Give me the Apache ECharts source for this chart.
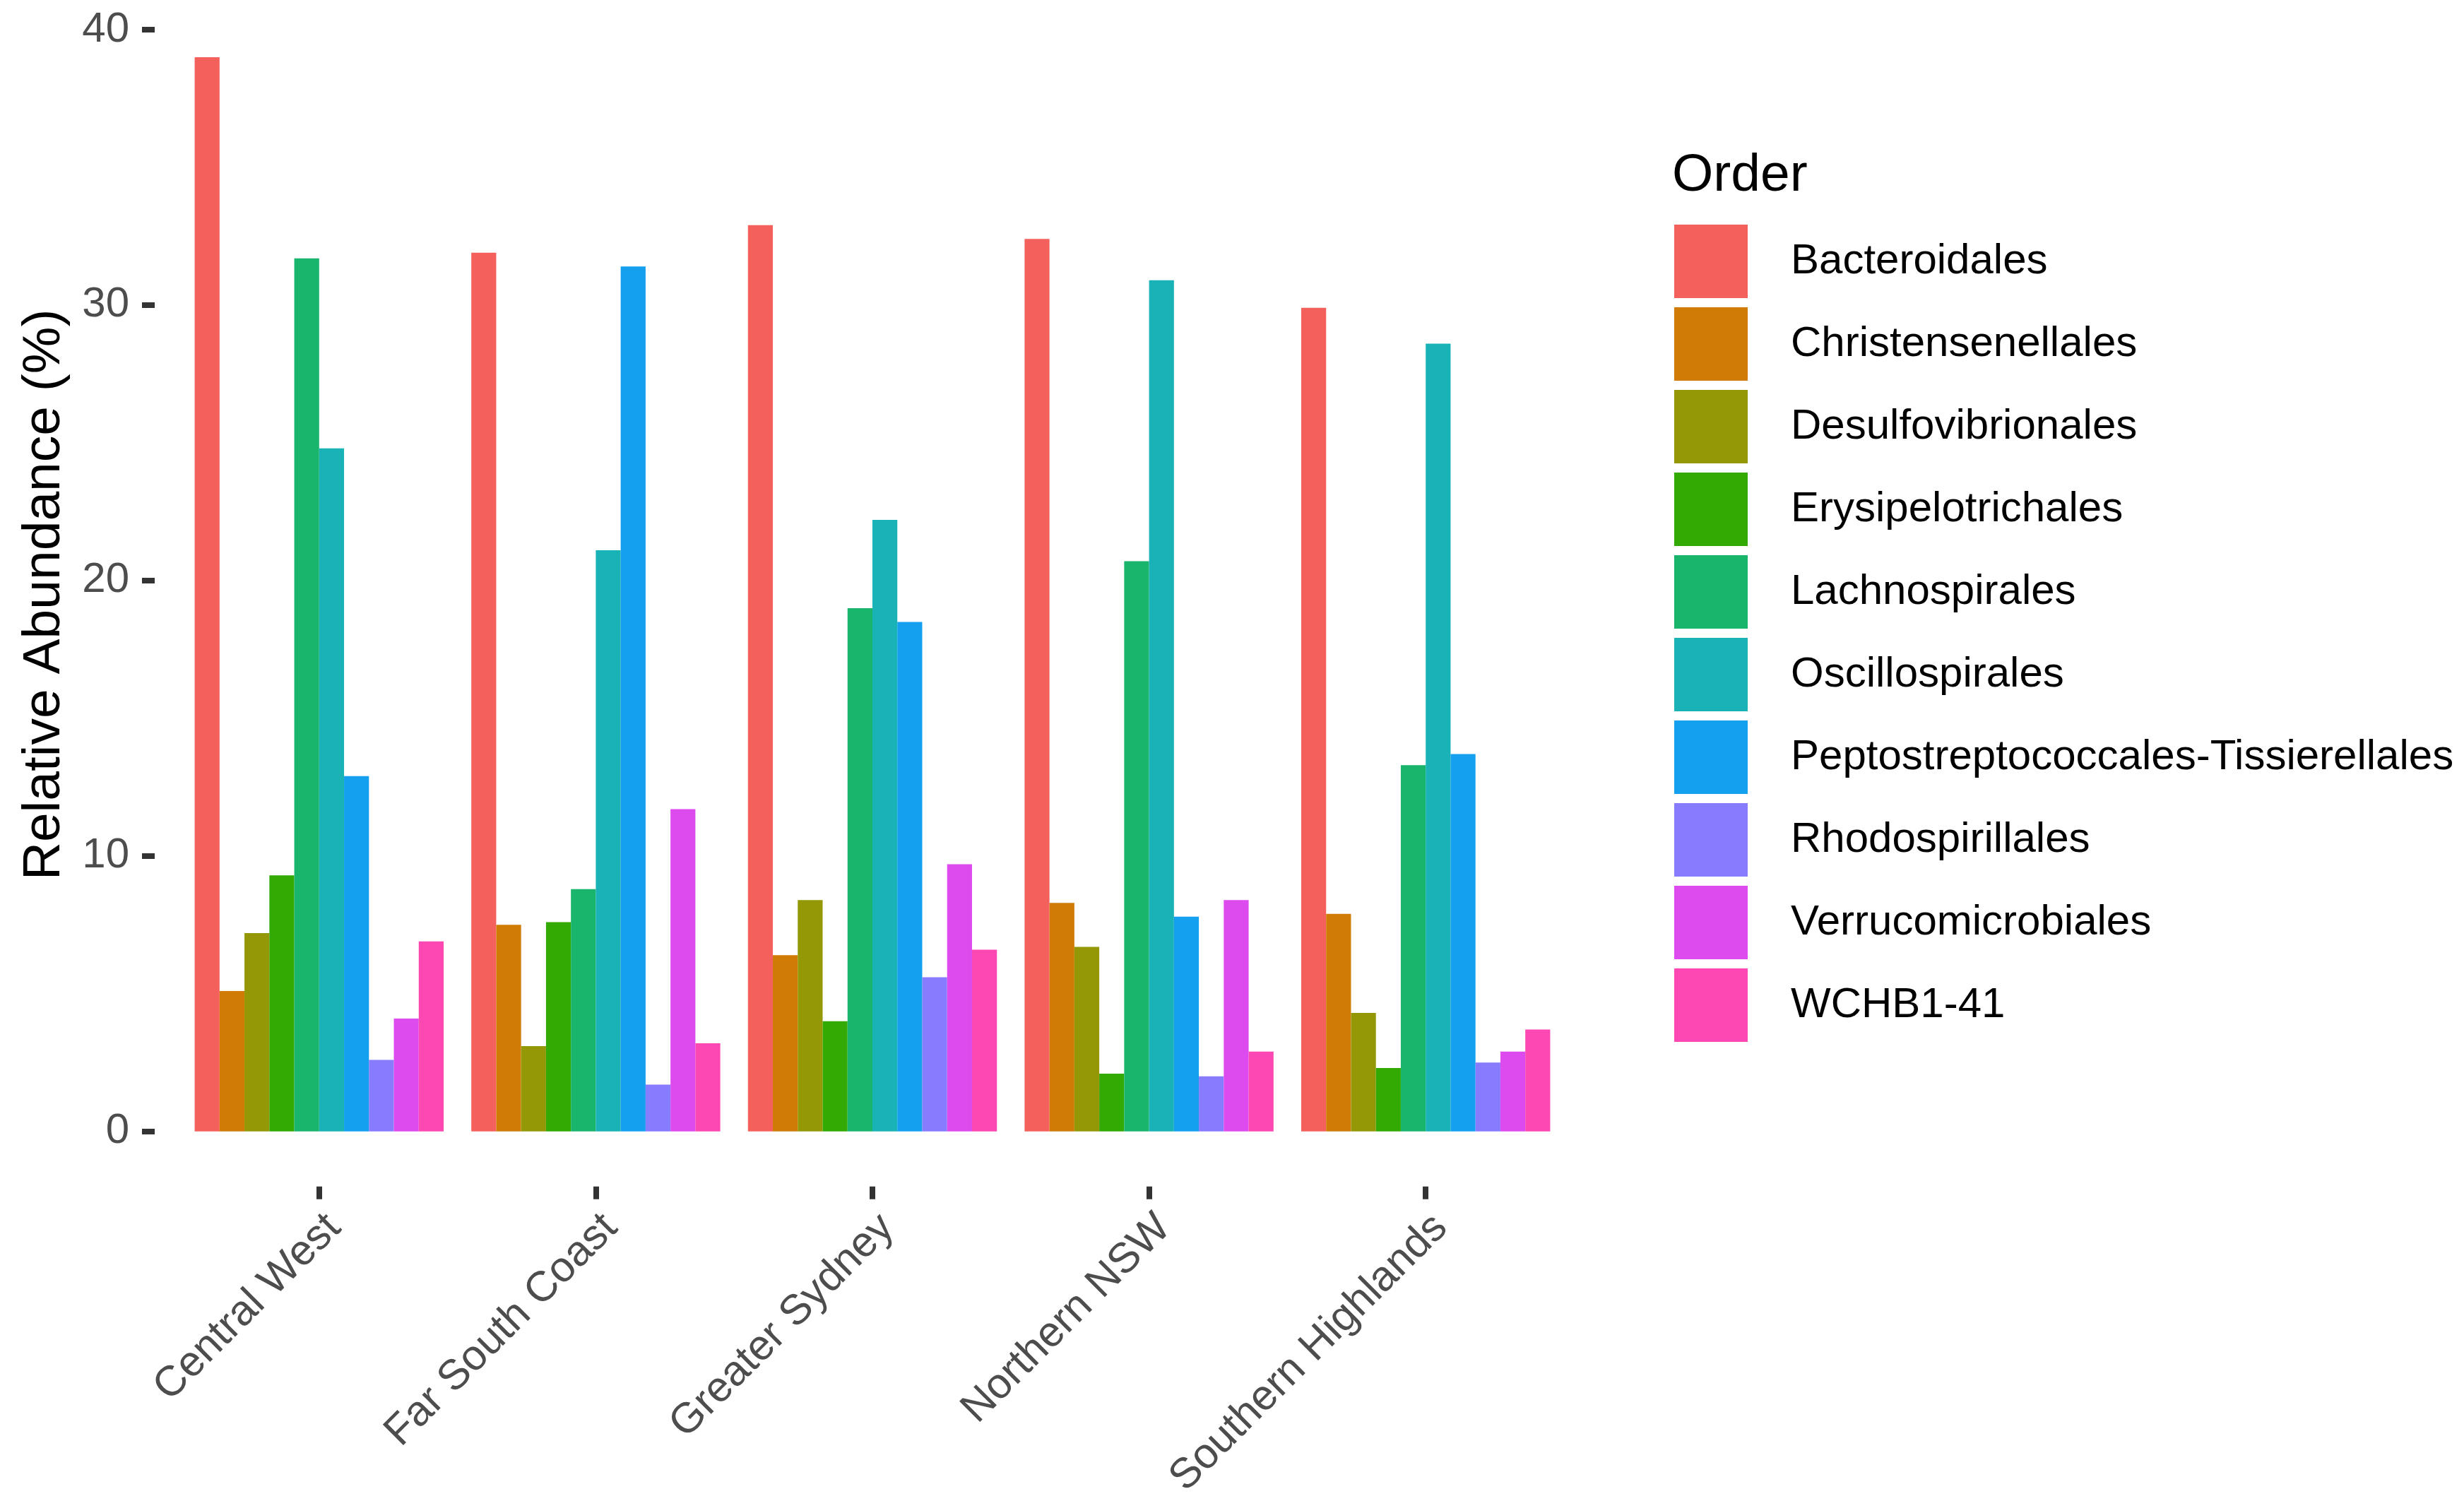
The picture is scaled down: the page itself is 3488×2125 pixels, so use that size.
<!DOCTYPE html>
<html>
<head>
<meta charset="utf-8">
<title>Relative Abundance by Order</title>
<script src="https://cdn.jsdelivr.net/npm/echarts@6/dist/echarts.min.js"></script>
<style>
  html, body { margin: 0; padding: 0; background: #fff; }
  #chart { width: 3488px; height: 2125px; }
</style>
</head>
<body>
<div id="chart"></div>
<script>
const regions = ['Central West', 'Far South Coast', 'Greater Sydney', 'Northern NSW', 'Southern Highlands'];

const orders = [
  'Bacteroidales', 'Christensenellales', 'Desulfovibrionales', 'Erysipelotrichales',
  'Lachnospirales', 'Oscillospirales', 'Peptostreptococcales-Tissierellales',
  'Rhodospirillales', 'Verrucomicrobiales', 'WCHB1-41'
];

// values per order, in region order
const bacteroidales      = [39.0, 31.9, 32.9, 32.4, 29.9];
const christensenellales = [5.1, 7.5, 6.4, 8.3, 7.9];
const desulfovibrionales = [7.2, 3.1, 8.4, 6.7, 4.3];
const erysipelotrichales = [9.3, 7.6, 4.0, 2.1, 2.3];
const lachnospirales     = [31.7, 8.8, 19.0, 20.7, 13.3];
const oscillospirales    = [24.8, 21.1, 22.2, 30.9, 28.6];
const peptostreptococcales = [12.9, 31.4, 18.5, 7.8, 13.7];
const rhodospirillales   = [2.6, 1.7, 5.6, 2.0, 2.5];
const verrucomicrobiales = [4.1, 11.7, 9.7, 8.4, 2.9];
const wchb141            = [6.9, 3.2, 6.6, 2.9, 3.7];

const yTicks = [0, 10, 20, 30, 40];

const seriesValues = [
  bacteroidales, christensenellales, desulfovibrionales, erysipelotrichales,
  lachnospirales, oscillospirales, peptostreptococcales, rhodospirillales,
  verrucomicrobiales, wchb141
];

const colors = [
  '#F4605B', '#CF7B06', '#949806', '#33A903', '#1AB56D',
  '#19B3B7', '#149FEF', '#877BFE', '#DD4BEF', '#FD48B3'
];

const font = "'Liberation Sans', Arial, Helvetica, sans-serif";

const chart = echarts.init(document.getElementById('chart'));

chart.setOption({
  animation: false,
  backgroundColor: '#fff',
  color: colors,
  textStyle: { fontFamily: font },
  title: {
    text: 'Order',
    left: 2367,
    top: 212,
    padding: 0,
    textStyle: { fontSize: 75, fontWeight: 'normal', color: '#000', fontFamily: font }
  },
  legend: {
    data: orders,
    orient: 'vertical',
    left: 2370,
    top: 318,
    padding: 0,
    icon: 'rect',
    itemWidth: 104,
    itemHeight: 104,
    itemGap: 13,
    itemStyle: { borderWidth: 0 },
    textStyle: {
      fontSize: 60,
      color: '#000',
      fontFamily: font,
      padding: [8, 0, 0, 56]
    }
  },
  grid: {
    left: 256,
    right: 1274,
    top: 42,
    bottom: 521
  },
  xAxis: {
    type: 'category',
    data: regions,
    offset: 78,
    axisLine: { show: false, onZero: false },
    axisTick: {
      show: true,
      alignWithLabel: true,
      length: 18,
      lineStyle: { color: '#333333', width: 8 }
    },
    axisLabel: {
      rotate: 45,
      align: 'right',
      verticalAlign: 'top',
      margin: 28,
      fontSize: 60,
      color: '#4D4D4D',
      fontFamily: font,
      interval: 0
    },
    splitLine: { show: false }
  },
  yAxis: {
    type: 'value',
    min: yTicks[0],
    max: yTicks[yTicks.length - 1],
    interval: 10,
    offset: 37,
    name: 'Relative Abundance (%)',
    nameLocation: 'middle',
    nameGap: 118,
    nameTextStyle: {
      fontSize: 75,
      color: '#000',
      fontFamily: font,
      padding: [0, 40, 0, 0]
    },
    axisLine: { show: false, onZero: false },
    axisTick: {
      show: true,
      length: 18,
      lineStyle: { color: '#333333', width: 8 }
    },
    axisLabel: {
      margin: 36,
      fontSize: 60,
      color: '#4D4D4D',
      fontFamily: font
    },
    splitLine: { show: false }
  },
  series: orders.map((name, i) => ({
    name: name,
    type: 'bar',
    data: seriesValues[i],
    barGap: '0%',
    barCategoryGap: '10%'
  }))
});
</script>
</body>
</html>
